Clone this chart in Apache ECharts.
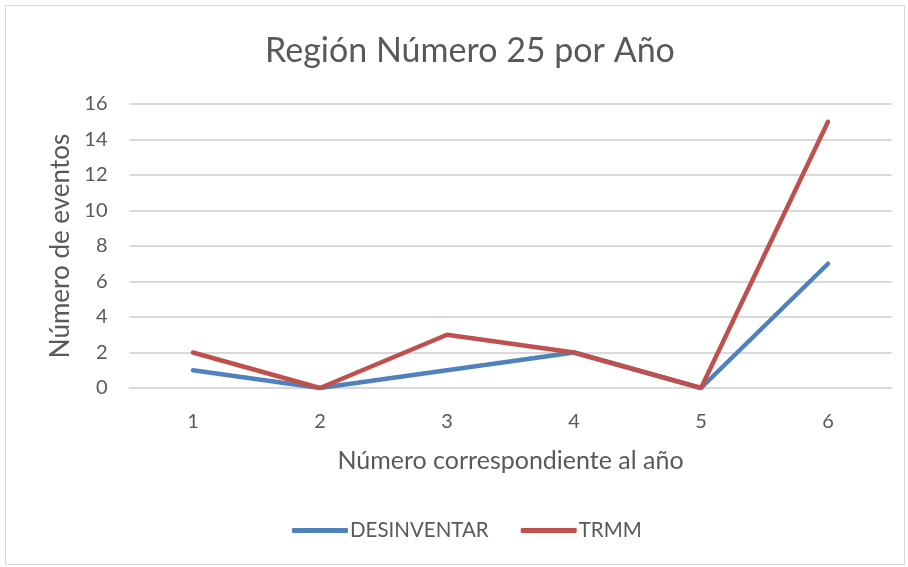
<!DOCTYPE html>
<html>
<head>
<meta charset="utf-8">
<script src="https://cdn.jsdelivr.net/npm/echarts@6/dist/echarts.min.js"></script>
<style>
  html, body { margin: 0; padding: 0; background: #fff; }
  #frame { position: absolute; left: 5px; top: 5px; width: 900px; height: 560px; border: 1px solid #d9d9d9; box-sizing: border-box; }
  #chart { width: 908px; height: 567px; position: absolute; left: 0; top: 0; }
</style>
</head>
<body>
<div id="frame"></div>
<div id="chart"></div>
<script>
const categories = ['1', '2', '3', '4', '5', '6'];
const desinventar = [1, 0, 1, 2, 0, 7];
const trmm = [2, 0, 3, 2, 0, 15];

const FONT = 'Lato, "Open Sans", sans-serif';
const TXT = '#595959';

const chart = echarts.init(document.getElementById('chart'), null, { renderer: 'canvas' });
chart.setOption({
  animation: false,
  backgroundColor: 'transparent',
  title: {
    text: 'Región Número 25 por Año',
    left: 260,
    top: 29,
    textStyle: { fontFamily: FONT, fontSize: 34, fontWeight: 'normal', color: TXT }
  },
  legend: {
    bottom: 21,
    left: 287,
    itemWidth: 56,
    itemHeight: 5,
    itemGap: 32,
    icon: 'roundRect',
    textStyle: { fontFamily: FONT, fontSize: 20.5, color: TXT, padding: [0, 0, 0, -3] },
    data: ['DESINVENTAR', 'TRMM']
  },
  grid: { left: 129.5, right: 16.5, top: 104, bottom: 179 },
  xAxis: {
    type: 'category',
    data: categories,
    boundaryGap: true,
    name: 'Número correspondiente al año',
    nameLocation: 'middle',
    nameGap: 60,
    nameTextStyle: { fontFamily: FONT, fontSize: 25, color: TXT },
    axisLine: { show: true, lineStyle: { color: '#d9d9d9', width: 2 } },
    axisTick: { show: false },
    axisLabel: { fontFamily: FONT, fontSize: 20, color: TXT, margin: 24 }
  },
  yAxis: {
    type: 'value',
    min: 0,
    max: 16,
    interval: 2,
    name: 'Número de eventos',
    nameLocation: 'middle',
    nameGap: 54,
    nameTextStyle: { fontFamily: FONT, fontSize: 26, color: TXT },
    axisLine: { show: false },
    axisTick: { show: false },
    axisLabel: { fontFamily: FONT, fontSize: 20, color: TXT, margin: 22 },
    splitLine: { lineStyle: { color: '#d9d9d9', width: 2 } }
  },
  series: [
    {
      name: 'DESINVENTAR',
      type: 'line',
      data: desinventar,
      symbol: 'none',
      color: '#4f81bd',
      lineStyle: { width: 4.5, cap: 'round', join: 'round' }
    },
    {
      name: 'TRMM',
      type: 'line',
      data: trmm,
      symbol: 'none',
      color: '#c0504d',
      lineStyle: { width: 4.5, cap: 'round', join: 'round' }
    }
  ]
});
</script>
</body>
</html>
